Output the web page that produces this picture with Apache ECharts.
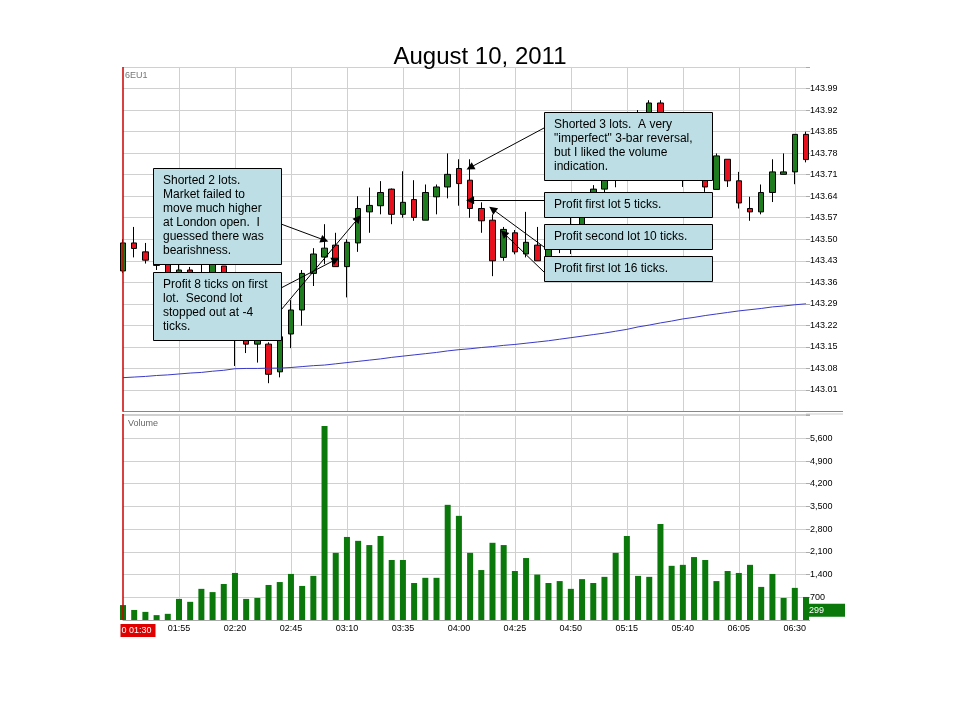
<!DOCTYPE html>
<html>
<head>
<meta charset="utf-8">
<script src="https://cdn.jsdelivr.net/npm/echarts@6/dist/echarts.min.js"></script>
<style>
    html, body { margin: 0; padding: 0; background: #fff; }
    #main { width: 960px; height: 720px; }
</style>
</head>
<body>
<div id="main"></div>
<script type="text/javascript">
    // 5-minute bars, 6EU1, August 10, 2011
    var times = ['01:30','01:35','01:40','01:45','01:50','01:55','02:00','02:05','02:10','02:15','02:20',
        '02:25','02:30','02:35','02:40','02:45','02:50','02:55','03:00','03:05','03:10','03:15',
        '03:20','03:25','03:30','03:35','03:40','03:45','03:50','03:55','04:00','04:05','04:10',
        '04:15','04:20','04:25','04:30','04:35','04:40','04:45','04:50','04:55','05:00','05:05',
        '05:10','05:15','05:20','05:25','05:30','05:35','05:40','05:45','05:50','05:55','06:00',
        '06:05','06:10','06:15','06:20','06:25','06:30','06:35'];

    var opens = [143.397,143.488,143.459,143.432,143.425,143.385,143.400,143.365,143.370,143.413,143.300,
        143.185,143.159,143.159,143.069,143.192,143.270,143.389,143.442,143.481,143.411,143.488,
        143.589,143.609,143.663,143.581,143.629,143.562,143.638,143.670,143.730,143.692,143.600,
        143.562,143.441,143.521,143.452,143.481,143.440,143.480,143.500,143.540,143.620,143.663,
        143.720,143.800,143.860,143.900,143.943,143.890,143.820,143.740,143.720,143.662,143.760,
        143.690,143.600,143.589,143.652,143.711,143.719,143.841];
    var closes = [143.488,143.470,143.432,143.415,143.385,143.400,143.365,143.375,143.430,143.300,143.185,
        143.159,143.172,143.061,143.183,143.270,143.389,143.452,143.471,143.411,143.490,143.600,
        143.610,143.652,143.581,143.620,143.571,143.652,143.670,143.711,143.681,143.600,143.560,
        143.430,143.532,143.459,143.490,143.430,143.480,143.520,143.540,143.620,143.663,143.720,
        143.800,143.860,143.900,143.943,143.890,143.820,143.740,143.720,143.670,143.771,143.690,
        143.618,143.589,143.652,143.719,143.719,143.841,143.759];
    var lows = [143.390,143.441,143.421,143.400,143.370,143.360,143.350,143.340,143.360,143.280,143.088,
        143.130,143.099,143.032,143.051,143.146,143.219,143.348,143.419,143.410,143.311,143.459,
        143.521,143.581,143.549,143.570,143.560,143.562,143.581,143.633,143.609,143.570,143.521,
        143.380,143.430,143.451,143.441,143.430,143.420,143.455,143.452,143.520,143.600,143.650,
        143.669,143.780,143.840,143.880,143.860,143.800,143.670,143.700,143.654,143.662,143.670,
        143.600,143.560,143.581,143.621,143.711,143.679,143.750];
    var highs = [143.500,143.540,143.488,143.445,143.430,143.420,143.410,143.430,143.450,143.413,143.310,
        143.190,143.180,143.165,143.190,143.302,143.400,143.471,143.549,143.521,143.500,143.640,
        143.668,143.689,143.665,143.721,143.692,143.678,143.678,143.779,143.760,143.760,143.620,
        143.581,143.540,143.530,143.589,143.540,143.500,143.530,143.580,143.640,143.676,143.740,
        143.820,143.880,143.920,143.952,143.952,143.900,143.830,143.760,143.730,143.779,143.760,
        143.719,143.638,143.678,143.760,143.779,143.841,143.850];

    var movingAvg = [143.050,143.052,143.054,143.057,143.059,143.062,143.065,143.067,143.071,143.074,143.079,
        143.080,143.080,143.081,143.081,143.083,143.086,143.089,143.091,143.095,143.099,143.103,
        143.107,143.111,143.116,143.120,143.124,143.128,143.132,143.137,143.141,143.144,143.148,
        143.151,143.155,143.158,143.162,143.166,143.170,143.175,143.180,143.185,143.190,143.195,
        143.201,143.207,143.215,143.221,143.228,143.234,143.241,143.246,143.252,143.257,143.262,
        143.267,143.271,143.275,143.280,143.283,143.287,143.290];

    var volumes = [460,310,250,150,190,650,560,960,860,1110,1450,
        650,680,1080,1170,1420,1050,1360,5980,2070,2560,2440,
        2310,2590,1850,1850,1140,1300,1300,3550,3210,2070,1540,
        2380,2310,1510,1910,1400,1140,1200,960,1260,1140,1330,
        2070,2590,1360,1330,2960,1670,1700,1940,1850,1200,1510,
        1450,1700,1020,1420,680,990,710];
    var lastVolume = 299;
    var cursorTime = '01:30';

    // arrow targets: bar time and price the note points to
    var arrowTimes  = ['03:00', '03:05', '03:15', '04:05', '04:05', '04:15', '04:20'];
    var arrowPrices = [143.497, 143.434, 143.568, 143.733, 143.627, 143.598, 143.520];

    var noteTexts = [
        'Shorted 2 lots.\nMarket failed to\nmove much higher\nat London open.  I\nguessed there was\nbearishness.',
        'Profit 8 ticks on first\nlot.  Second lot\nstopped out at -4\nticks.',
        'Shorted 3 lots.  A very\n"imperfect" 3-bar reversal,\nbut I liked the volume\nindication.',
        'Profit first lot 5 ticks.',
        'Profit second lot 10 ticks.',
        'Profit first lot 16 ticks.'
    ];

    // layout of the note boxes (pixels) and where each arrow leaves its box
    var noteBoxes = [
        {x: 153, y: 168, w: 128, h: 96, ty: 174},
        {x: 153, y: 272, w: 128, h: 68, ty: 278},
        {x: 544, y: 112, w: 168, h: 68, ty: 118},
        {x: 544, y: 192, w: 168, h: 25, ty: 198},
        {x: 544, y: 224, w: 168, h: 25, ty: 230},
        {x: 544, y: 256, w: 168, h: 25, ty: 262}
    ];
    var arrowStarts = [[281, 224], [281, 288], [281, 310], [544, 128], [544, 200], [544, 247], [544, 272]];

    var FONT = '"Liberation Sans", Arial, sans-serif';
    var GRID_COLOR = '#d0d0d0';
    var CURSOR_RED = '#cc0000';

    var candleData = [];
    for (var i = 0; i < times.length; i++) {
        candleData.push([opens[i], closes[i], lows[i], highs[i]]);
    }

    var arrowLines = [];
    for (var j = 0; j < arrowTimes.length; j++) {
        arrowLines.push([
            {x: arrowStarts[j][0], y: arrowStarts[j][1]},
            {coord: [arrowTimes[j], arrowPrices[j]]}
        ]);
    }

    var graphics = [
        {type: 'text', x: 125, y: 71, z: 50, style: {text: '6EU1', font: '9px ' + FONT, fill: '#777'}},
        {type: 'text', x: 128, y: 419, z: 50, style: {text: 'Volume', font: '9px ' + FONT, fill: '#666'}},
        {type: 'line', z: 50, shape: {x1: 806, y1: 411.5, x2: 843, y2: 411.5}, style: {stroke: '#888', lineWidth: 1}},
        {type: 'line', z: 50, shape: {x1: 806, y1: 414, x2: 843, y2: 414}, style: {stroke: '#ccc', lineWidth: 1}}
    ];
    for (var k = 0; k < noteBoxes.length; k++) {
        var b = noteBoxes[k];
        graphics.push({
            type: 'rect', z: 100,
            shape: {x: b.x + 0.5, y: b.y + 0.5, width: b.w, height: b.h},
            style: {fill: '#bcdee4', stroke: '#000', lineWidth: 1}
        });
        graphics.push({
            type: 'text', z: 101, x: b.x + 10, y: b.ty,
            style: {text: noteTexts[k], font: '12px ' + FONT, fill: '#000', lineHeight: 14, verticalAlign: 'top'}
        });
    }

    // vertical split lines every 25 minutes, skipping the left edge (cursor line sits there)
    function everyFifthBar(idx) {
        return idx > 0 && idx % 5 === 0;
    }

    var cursorLine = {
        xAxis: cursorTime,
        lineStyle: {color: CURSOR_RED, width: 1.5, type: 'solid', opacity: 1},
        label: {show: false}
    };

    var chart = echarts.init(document.getElementById('main'));
    var option = {
        animation: false,
        backgroundColor: '#fff',
        title: {
            text: 'August 10, 2011',
            left: 'center',
            top: 45,
            padding: 0,
            textStyle: {fontFamily: FONT, fontSize: 24, fontWeight: 'normal', color: '#000'}
        },
        graphic: graphics,
        grid: [
            {left: 123, right: 154, top: 67, height: 344.5},
            {left: 123, right: 154, top: 414, bottom: 100}
        ],
        xAxis: [
            {
                type: 'category', gridIndex: 0, data: times, boundaryGap: false,
                axisLine: {show: true, lineStyle: {color: '#888'}},
                axisTick: {show: false}, axisLabel: {show: false},
                splitLine: {show: true, interval: everyFifthBar, lineStyle: {color: GRID_COLOR}}
            },
            {
                type: 'category', gridIndex: 1, data: times, boundaryGap: false,
                axisLine: {show: true, lineStyle: {color: '#aaa'}},
                axisTick: {show: false},
                splitLine: {show: true, interval: everyFifthBar, lineStyle: {color: GRID_COLOR}},
                axisLabel: {
                    interval: 4, margin: 4, fontSize: 9, fontFamily: FONT, color: '#000',
                    formatter: function (v, idx) {
                        return idx === 0 ? '{sp|}{cur|0 ' + v + '}' : v;
                    },
                    rich: {
                        sp: {width: 30},
                        cur: {backgroundColor: '#e00000', color: '#fff', fontSize: 9, fontFamily: FONT,
                              padding: [2, 4, 2, 1]}
                    }
                }
            }
        ],
        yAxis: [
            {
                type: 'value', gridIndex: 0, position: 'right',
                min: 142.94, max: 144.06, interval: 0.07,
                axisLine: {show: false},
                axisTick: {show: true, length: 4, lineStyle: {color: '#aaa'}},
                splitLine: {show: true, lineStyle: {color: GRID_COLOR}},
                axisLabel: {
                    fontSize: 9, fontFamily: FONT, color: '#000', margin: 4,
                    formatter: function (v) {
                        return (v < 142.95 || v > 144.05) ? '' : v.toFixed(2);
                    }
                }
            },
            {
                type: 'value', gridIndex: 1, position: 'right',
                min: 0, max: 6350, interval: 700,
                axisLine: {show: false},
                axisTick: {show: true, length: 4, lineStyle: {color: '#aaa'}},
                splitLine: {show: true, lineStyle: {color: GRID_COLOR}},
                axisLabel: {
                    fontSize: 9, fontFamily: FONT, color: '#000', margin: 4,
                    formatter: function (v) {
                        return (v === 0 || v > 5600) ? '' : v.toLocaleString('en-US');
                    }
                }
            }
        ],
        series: [
            {
                name: '6EU1', type: 'candlestick', xAxisIndex: 0, yAxisIndex: 0,
                data: candleData, barWidth: 6, clip: true,
                itemStyle: {color: '#1e7b1e', color0: '#e8101c', borderColor: '#000', borderColor0: '#000', borderWidth: 1},
                markLine: {
                    silent: true, animation: false,
                    symbol: ['none', 'triangle'], symbolSize: 8,
                    lineStyle: {color: '#000', width: 1, type: 'solid'},
                    label: {show: false},
                    emphasis: {disabled: true},
                    data: arrowLines
                }
            },
            {
                name: 'MA', type: 'line', xAxisIndex: 0, yAxisIndex: 0,
                data: movingAvg, showSymbol: false, silent: true,
                lineStyle: {color: '#3a3ac8', width: 1},
                markLine: {
                    silent: true, animation: false, symbol: 'none',
                    emphasis: {disabled: true},
                    data: [cursorLine]
                }
            },
            {
                name: 'Volume', type: 'bar', xAxisIndex: 1, yAxisIndex: 1,
                data: volumes, barWidth: 6,
                itemStyle: {color: '#0a780a'},
                markLine: {
                    silent: true, animation: false, symbol: 'none',
                    emphasis: {disabled: true},
                    data: [
                        cursorLine,
                        {
                            yAxis: lastVolume,
                            lineStyle: {color: 'rgba(0,0,0,0)', width: 1},
                            label: {
                                show: true, position: 'end', distance: 0,
                                formatter: String(lastVolume),
                                backgroundColor: '#0a780a', color: '#fff',
                                fontSize: 9, fontFamily: FONT, padding: [2, 21, 2, 3]
                            }
                        }
                    ]
                }
            }
        ]
    };
    chart.setOption(option);
</script>
</body>
</html>
